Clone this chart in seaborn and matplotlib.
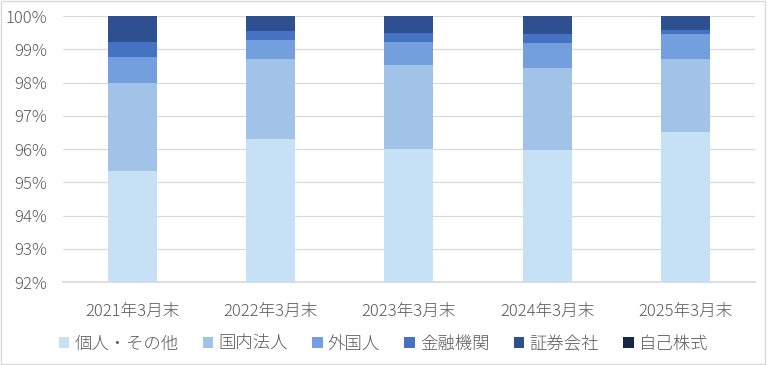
import pandas as pd
import matplotlib.pyplot as plt
import seaborn as sns
from matplotlib.patches import Patch, Rectangle
from matplotlib.ticker import FuncFormatter

# shareholder composition (% of shares)
periods = ['2021年3月末', '2022年3月末', '2023年3月末', '2024年3月末', '2025年3月末']
kojin = [95.34, 96.30, 96.00, 95.97, 96.51]       # 個人・その他
kokunai = [2.64, 2.40, 2.53, 2.47, 2.19]          # 国内法人
gaikoku = [0.79, 0.59, 0.69, 0.76, 0.75]          # 外国人
kinyu = [0.44, 0.27, 0.26, 0.26, 0.13]            # 金融機関
shoken = [0.79, 0.44, 0.52, 0.54, 0.42]           # 証券会社
jiko = [0.00, 0.00, 0.00, 0.00, 0.00]             # 自己株式

series_names = ['個人・その他', '国内法人', '外国人', '金融機関', '証券会社', '自己株式']
colors = ['#C6E0F6', '#A1C3E8', '#739FDE', '#4572C3', '#2E5090', '#172649']

sns.set_theme(style='white')
plt.rcParams['font.family'] = ['Noto Sans CJK JP', 'DejaVu Sans']
plt.rcParams['font.weight'] = 'light'

df = pd.DataFrame({'period': periods, '個人・その他': kojin, '国内法人': kokunai,
                   '外国人': gaikoku, '金融機関': kinyu, '証券会社': shoken, '自己株式': jiko})

# cumulative totals so the bars can be overlaid from top to bottom
cum = df[series_names].cumsum(axis=1)

fig = plt.figure(figsize=(7.67, 3.65), dpi=100)
ax = fig.add_axes([0.082, 0.227, 0.902, 0.729])

for name, col in reversed(list(zip(series_names, colors))):
    sns.barplot(x=df['period'], y=cum[name], color=col, width=0.355,
                saturation=1, linewidth=0, ax=ax, zorder=3)

ax.set_ylim(92, 100)
ax.set_yticks(range(92, 101))
ax.yaxis.set_major_formatter(FuncFormatter(lambda v, p: f'{int(v)}%'))
ax.grid(axis='y', color='#D9D9D9', linewidth=0.9, zorder=0)
ax.set_axisbelow(True)
for s in ['top', 'right', 'left']:
    ax.spines[s].set_visible(False)
ax.spines['bottom'].set_color('#D9D9D9')
ax.set_xlabel('')
ax.set_ylabel('')
ax.tick_params(axis='both', colors='#595959', labelsize=12, length=0)
ax.tick_params(axis='y', pad=11)
ax.tick_params(axis='x', pad=15)

handles = [Patch(facecolor=c, edgecolor='none') for c in colors]
fig.legend(handles, series_names, loc='center', bbox_to_anchor=(0.5, 0.0575), ncol=6,
           frameon=False, fontsize=12.5, handlelength=0.6, handleheight=0.6,
           handletextpad=0.3, columnspacing=1.4, labelcolor='#595959')

fig.patches.append(Rectangle((0.001, 0.002), 0.997, 0.995, transform=fig.transFigure,
                             fill=False, edgecolor='#D9D9D9', linewidth=1))

plt.savefig('out.png', dpi=100)
